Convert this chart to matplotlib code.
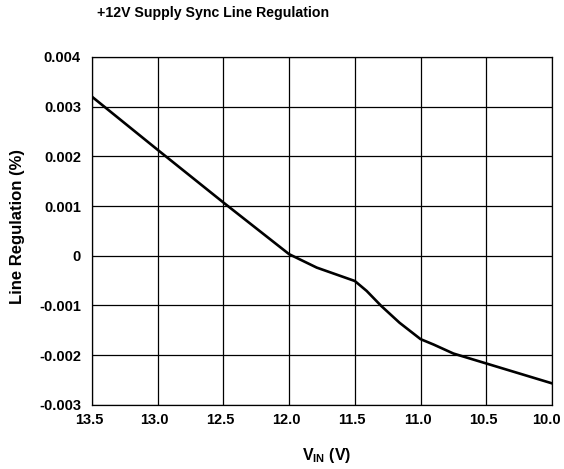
import matplotlib
matplotlib.use('Agg')
import matplotlib.pyplot as plt
import matplotlib.transforms as mtransforms

# readings
vin = [13.5, 13.0, 12.5, 12.25, 12.0, 11.79, 11.5, 11.41, 11.3, 11.16, 11.0, 10.9, 10.75, 10.5, 10.25, 10.0]
reg = [0.0032, 0.00213, 0.00107, 0.00055, 0.00003, -0.00024, -0.00051, -0.00071, -0.00101, -0.00135,
       -0.00168, -0.00179, -0.00197, -0.00217, -0.00237, -0.00257]
xticks = [13.5, 13.0, 12.5, 12.0, 11.5, 11.0, 10.5, 10.0]
yticks = [-0.003, -0.002, -0.001, 0, 0.001, 0.002, 0.003, 0.004]
ylabels = ['-0.003', '-0.002', '-0.001', '0', '0.001', '0.002', '0.003', '0.004']

plt.rcParams['font.family'] = ['Liberation Sans', 'DejaVu Sans']
plt.rcParams['font.weight'] = 'bold'
plt.rcParams['mathtext.fontset'] = 'custom'
plt.rcParams['mathtext.bf'] = 'Liberation Sans:bold'
plt.rcParams['mathtext.rm'] = 'Liberation Sans:bold'
plt.rcParams['mathtext.it'] = 'Liberation Sans:bold'

fig = plt.figure(figsize=(5.64, 4.69), dpi=100)
ax = fig.add_axes([0.1631, 0.1371, 0.8156, 0.7414])

ax.plot(vin, reg, color='black', lw=1.9, solid_joinstyle='round')
ax.set_xlim(13.5, 10.0)
ax.set_ylim(-0.003, 0.004)
ax.set_xticks(xticks)
ax.set_xticklabels(['%.1f' % t for t in xticks], fontsize=10.5, fontweight='bold')
ax.set_yticks(yticks)
ax.set_yticklabels(ylabels, fontsize=10.5, fontweight='bold')
ax.tick_params(axis='y', length=0, pad=8)
ax.tick_params(axis='x', length=0, pad=6)
ax.grid(True, color='black', lw=0.9)
for s in ax.spines.values():
    s.set_linewidth(0.9)

# labels sit a little left of their grid lines, the last one more so
labs = ax.get_xticklabels()
for i, lab in enumerate(labs):
    dx = -6 if i == len(labs) - 1 else -3
    lab.set_transform(lab.get_transform() + mtransforms.ScaledTranslation(dx / 100, 0, fig.dpi_scale_trans))

fig.text(0.5798, 1 - 455 / 469, r'$\mathrm{V_{IN}}$ (V)', fontsize=11.5, fontweight='bold',
         ha='center', va='center')
fig.text(18 / 564, 1 - 227 / 469, 'Line Regulation (%)', fontsize=12, fontweight='bold',
         rotation=90, ha='center', va='center')
fig.text(97 / 564, 1 - 13 / 469, '+12V Supply Sync Line Regulation', fontsize=10.2, fontweight='bold',
         va='center')

fig.savefig('out.png', dpi=100)
